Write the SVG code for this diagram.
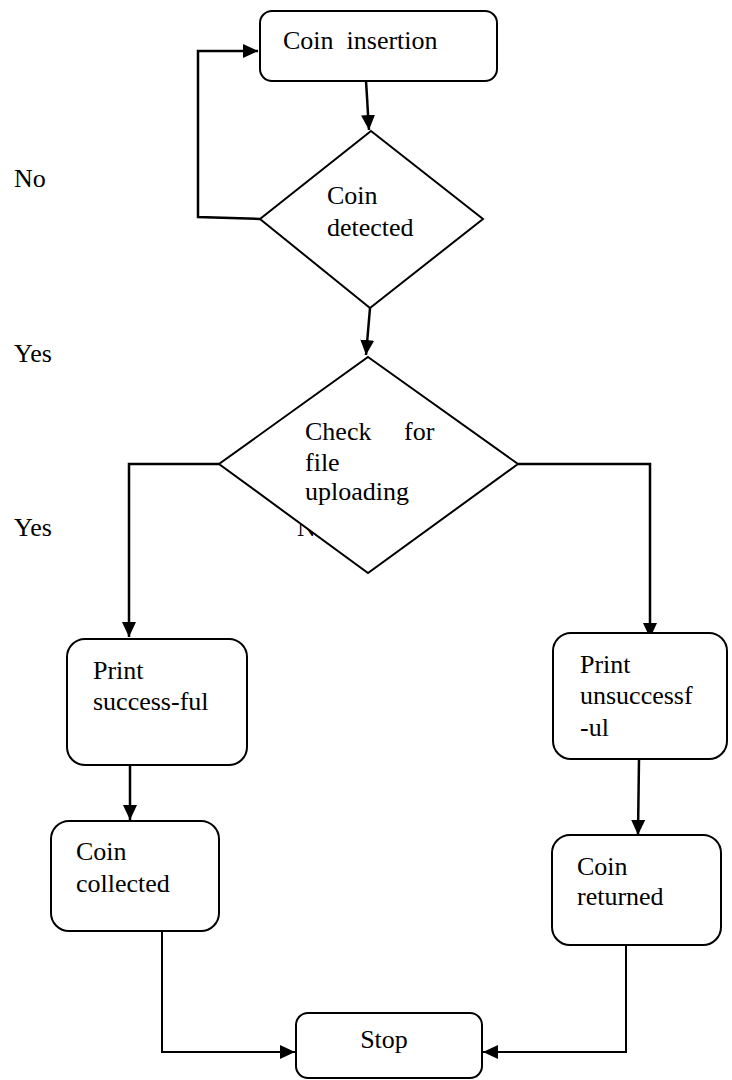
<svg xmlns="http://www.w3.org/2000/svg" width="732" height="1080" viewBox="0 0 732 1080">
<style>
.box{fill:#fff;stroke:#000;stroke-width:2}
.dia{fill:#fff;stroke:#000;stroke-width:2}
text{font-family:'Liberation Serif','Times New Roman',Times,'Nimbus Roman','DejaVu Serif',serif;font-size:26px;fill:#000}
.c{fill:none;stroke:#000;stroke-width:2.5}
.c2{fill:none;stroke:#000;stroke-width:2}
</style>
<defs>
<marker id="ah" markerUnits="userSpaceOnUse" markerWidth="16" markerHeight="14" refX="15" refY="7" orient="auto">
<path d="M0,0 L15,7 L0,14 z" fill="#000"/>
</marker>
</defs>
<rect width="732" height="1080" fill="#fff"/>
<g id="labels" font-family="Liberation Serif, serif">
<text x="14" y="187">No</text>
<text x="14" y="362">Yes</text>
<text x="14" y="536">Yes</text>
<text x="297" y="536">No</text>
</g>
<g id="connectors">
<path class="c" d="M366,81 L369,130" marker-end="url(#ah)"/>
<path class="c" d="M260,219 L198,217 L198,51 L258,51" marker-end="url(#ah)"/>
<path class="c" d="M370,308 L366,355" marker-end="url(#ah)"/>
<path class="c" d="M219,464 L129,464 L129,637" marker-end="url(#ah)"/>
<path class="c" d="M518,464 L650,464 L650,638" marker-end="url(#ah)"/>
<path class="c" d="M130,765 L130,820" marker-end="url(#ah)"/>
<path class="c" d="M639,759 L638,835" marker-end="url(#ah)"/>
<path class="c2" d="M162,931 L162,1052 L295,1052" marker-end="url(#ah)"/>
<path class="c2" d="M626,945 L626,1052 L483,1052" marker-end="url(#ah)"/>
</g>
<g id="coin-insertion">
<rect class="box" x="260" y="11" width="237" height="70" rx="12"/>
<text x="283" y="49" xml:space="preserve">Coin  insertion</text>
</g>
<g id="coin-detected">
<polygon class="dia" points="371,131 483,219 370,308 260,219"/>
<text x="327" y="204">Coin</text>
<text x="327" y="236">detected</text>
</g>
<g id="check-file">
<polygon class="dia" points="368,357 518,464 368,573 219,464"/>
<text x="305" y="440">Check</text>
<text x="404" y="440">for</text>
<text x="305" y="471">file</text>
<text x="305" y="500">uploading</text>
</g>
<g id="print-successful">
<rect class="box" x="67" y="639" width="180" height="126" rx="18"/>
<text x="93" y="679">Print</text>
<text x="93" y="710">success-ful</text>
</g>
<g id="print-unsuccessful">
<rect class="box" x="553" y="633" width="174" height="126" rx="18"/>
<text x="580" y="673">Print</text>
<text x="580" y="704">unsuccessf</text>
<text x="580" y="736">-ul</text>
</g>
<g id="coin-collected">
<rect class="box" x="51" y="821" width="168" height="110" rx="18"/>
<text x="76" y="860">Coin</text>
<text x="76" y="892">collected</text>
</g>
<g id="coin-returned">
<rect class="box" x="552" y="835" width="169" height="110" rx="18"/>
<text x="577" y="875">Coin</text>
<text x="577" y="905">returned</text>
</g>
<g id="stop">
<rect class="box" x="296" y="1013" width="186" height="65" rx="12"/>
<text x="384" y="1048" text-anchor="middle">Stop</text>
</g>
</svg>
